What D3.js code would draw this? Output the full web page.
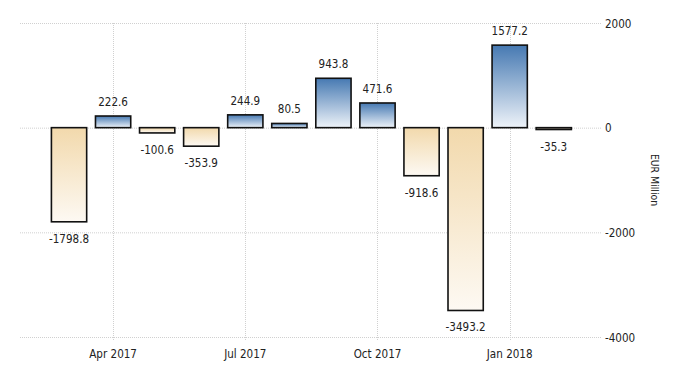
<!DOCTYPE html>
<html>
<head>
<meta charset="utf-8">
<script src="https://cdn.jsdelivr.net/npm/d3@7"></script>
<style>
    body { margin: 0; background: #fff; }
    text { font-family: "DejaVu Sans", sans-serif; fill: #222; }
</style>
</head>
<body>
<svg id="chart" width="700" height="375"></svg>
<script>

//      monthly values, EUR million
const months = ["Mar 2017", "Apr 2017", "May 2017", "Jun 2017", "Jul 2017", "Aug 2017",
    "Sep 2017", "Oct 2017", "Nov 2017", "Dec 2017", "Jan 2018", "Feb 2018"];
const values = [-1798.8, 222.6, -100.6, -353.9, 244.9, 80.5, 943.8, 471.6, -918.6, -3493.2, 1577.2, -35.3];
const xTickLabels = ["Apr 2017", "Jul 2017", "Oct 2017", "Jan 2018"];
const yTicks = [-4000, -2000, 0, 2000];
const yLabel = "EUR Million";

const svg = d3.select("#chart");

const plot = {left: 20, right: 602, top: 23, bottom: 337};
const squeeze = 0.8;       //  the reference font is a narrow one, no narrow face here

const x = d3.scaleBand()
    .domain(months)
    .range([42.6, 580.2])
    .padding(0.2);

const y = d3.scaleLinear()
    .domain([-4000, 2000])
    .range([plot.bottom, plot.top]);

const place = (px, py) => `translate(${px},${py}) scale(${squeeze},1)`;

//  gradients
const defs = svg.append("defs");
const grads = [
    {id: "posGrad", top: "#4679b2", bottom: "#eef3f9"},
    {id: "negGrad", top: "#f2d9ac", bottom: "#fdf9f3"},
];
grads.forEach(g => {
    const lg = defs.append("linearGradient")
        .attr("id", g.id)
        .attr("x1", 0).attr("y1", 0).attr("x2", 0).attr("y2", 1);
    lg.append("stop").attr("offset", "0%").attr("stop-color", g.top);
    lg.append("stop").attr("offset", "100%").attr("stop-color", g.bottom);
});

//  horizontal grid
svg.append("g")
    .selectAll("line")
    .data(yTicks)
    .join("line")
    .attr("x1", plot.left)
    .attr("x2", plot.right)
    .attr("y1", d => y(d) + 0.5)
    .attr("y2", d => y(d) + 0.5)
    .attr("stroke", "#d0d0d0")
    .attr("stroke-dasharray", "1,1");

//  vertical grid at quarter ticks
const xCenter = m => x(m) + x.bandwidth() / 2;
svg.append("g")
    .selectAll("line")
    .data(xTickLabels)
    .join("line")
    .attr("x1", d => Math.round(xCenter(d)) + 0.5)
    .attr("x2", d => Math.round(xCenter(d)) + 0.5)
    .attr("y1", plot.top)
    .attr("y2", plot.bottom + 4)
    .attr("stroke", "#d0d0d0")
    .attr("stroke-dasharray", "1,1");

//  bars
svg.append("g")
    .selectAll("rect")
    .data(values)
    .join("rect")
    .attr("x", (d, i) => x(months[i]))
    .attr("width", x.bandwidth())
    .attr("y", d => y(Math.max(0, d)))
    .attr("height", d => Math.max(1, Math.abs(y(d) - y(0))))
    .attr("fill", d => d >= 0 ? "url(#posGrad)" : "url(#negGrad)")
    .attr("stroke", "#111")
    .attr("stroke-width", 1.6);

//  value labels
svg.append("g")
    .selectAll("text")
    .data(values)
    .join("text")
    .attr("transform", (d, i) => place(xCenter(months[i]), d >= 0 ? y(d) - 10 : y(d) + 21))
    .attr("text-anchor", "middle")
    .attr("font-size", 13)
    .text(d => d.toFixed(1));

//  x axis labels
svg.append("g")
    .selectAll("text")
    .data(xTickLabels)
    .join("text")
    .attr("transform", d => place(xCenter(d), 358))
    .attr("text-anchor", "middle")
    .attr("font-size", 13)
    .text(d => d);

//  right y axis labels
svg.append("g")
    .selectAll("text")
    .data(yTicks)
    .join("text")
    .attr("transform", d => place(605, y(d) + 4.5))
    .attr("font-size", 13)
    .text(d => d);

svg.append("text")
    .attr("transform", "translate(651,180) rotate(90) scale(0.85,1)")
    .attr("text-anchor", "middle")
    .attr("font-size", 11)
    .text(yLabel);

</script>
</body>
</html>
